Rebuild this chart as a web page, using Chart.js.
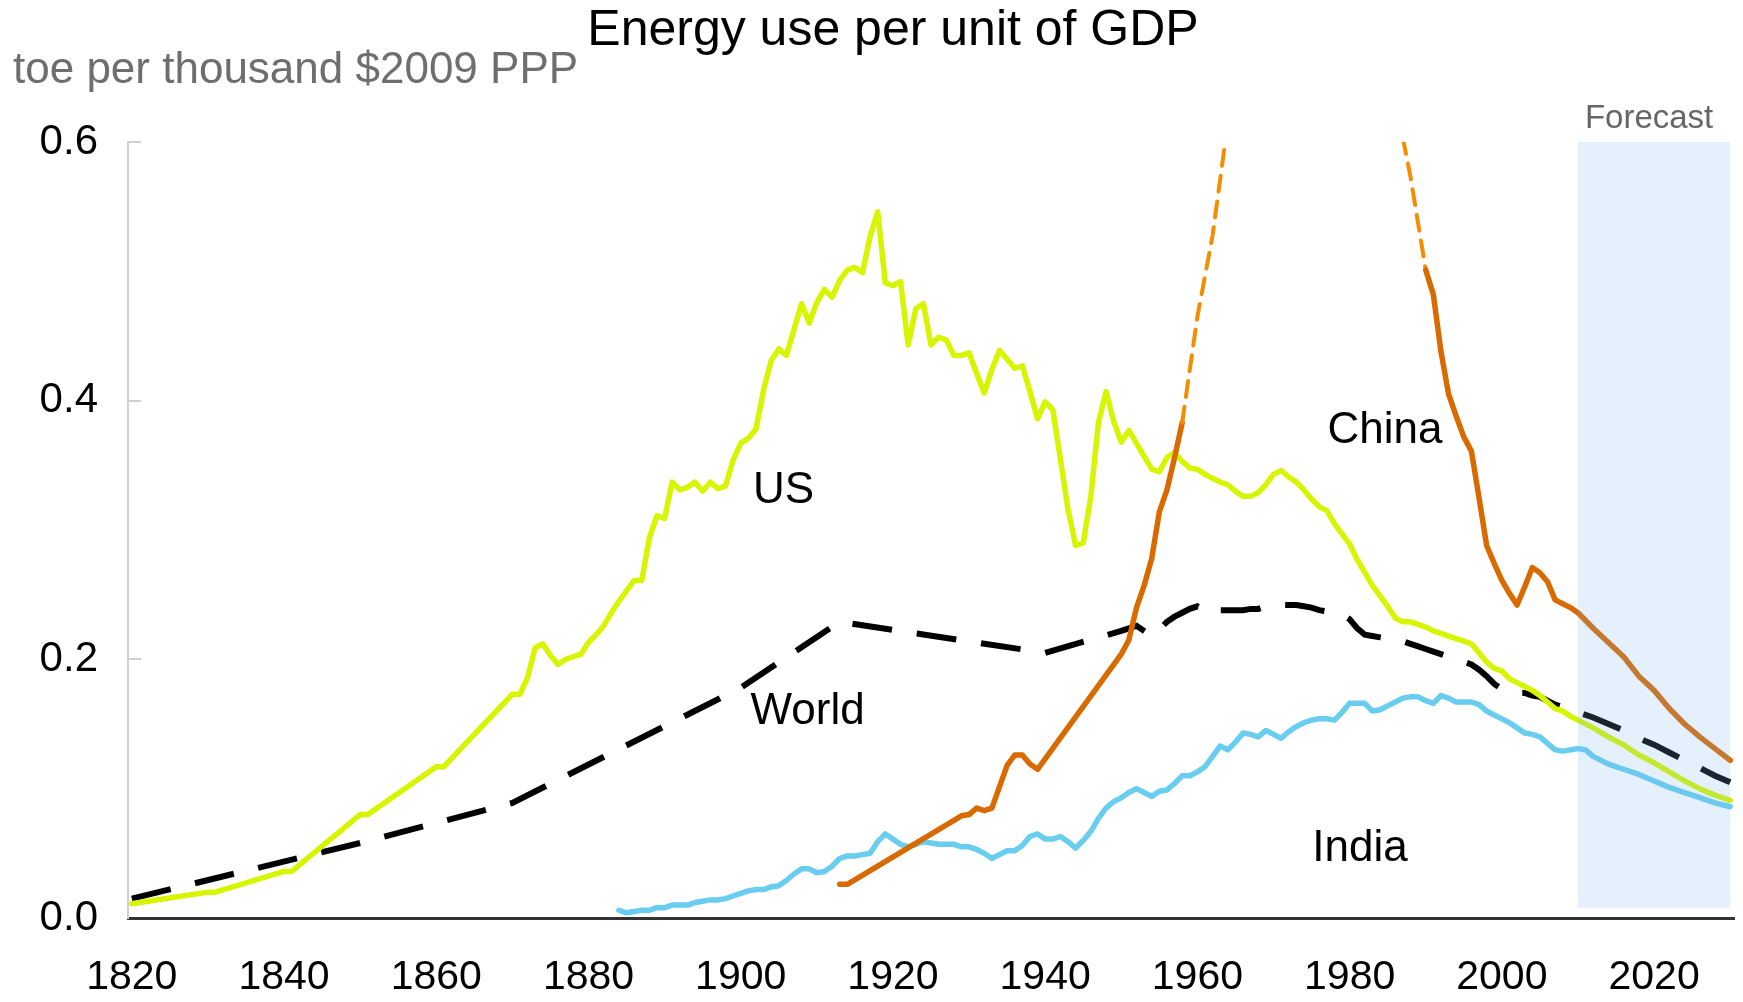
<!DOCTYPE html>
<html>
<head>
<meta charset="utf-8">
<title>Energy use per unit of GDP</title>
<script src="https://cdn.jsdelivr.net/npm/chart.js@4.4.1/dist/chart.umd.min.js"></script>
<style>
  html, body { margin: 0; padding: 0; background: #fff; }
  #chart { display: block; }
</style>
</head>
<body>
<canvas id="chart" width="1743" height="1002"></canvas>
<script>
// toe per thousand $2009 PPP
const usYears = [
  1820, 1830, 1831, 1840, 1841, 1850, 1851, 1860, 1861, 1870,
  1871, 1872, 1873, 1874, 1875, 1876, 1877, 1878, 1879, 1880,
  1881, 1882, 1883, 1884, 1885, 1886, 1887, 1888, 1889, 1890,
  1891, 1892, 1893, 1894, 1895, 1896, 1897, 1898, 1899, 1900,
  1901, 1902, 1903, 1904, 1905, 1906, 1907, 1908, 1909, 1910,
  1911, 1912, 1913, 1914, 1915, 1916, 1917, 1918, 1919, 1920,
  1921, 1922, 1923, 1924, 1925, 1926, 1927, 1928, 1929, 1930,
  1931, 1932, 1933, 1934, 1935, 1936, 1937, 1938, 1939, 1940,
  1941, 1942, 1943, 1944, 1945, 1946, 1947, 1948, 1949, 1950,
  1951, 1952, 1953, 1954, 1955, 1956, 1957, 1958, 1959, 1960,
  1961, 1962, 1963, 1964, 1965, 1966, 1967, 1968, 1969, 1970,
  1971, 1972, 1973, 1974, 1975, 1976, 1977, 1978, 1979, 1980,
  1981, 1982, 1983, 1984, 1985, 1986, 1987, 1988, 1989, 1990,
  1991, 1992, 1993, 1994, 1995, 1996, 1997, 1998, 1999, 2000,
  2001, 2002, 2003, 2004, 2005, 2006, 2007, 2008, 2009, 2010,
  2012, 2014, 2016, 2018, 2020, 2022, 2024, 2026, 2028, 2030
]
const usValues = [
  0.011, 0.020, 0.020, 0.036, 0.036, 0.080, 0.080, 0.117, 0.117, 0.173,
  0.173, 0.186, 0.209, 0.212, 0.203, 0.196, 0.200, 0.202, 0.204, 0.213,
  0.219, 0.226, 0.236, 0.245, 0.253, 0.261, 0.261, 0.294, 0.311, 0.309,
  0.337, 0.331, 0.333, 0.337, 0.330, 0.337, 0.332, 0.334, 0.354, 0.367,
  0.371, 0.378, 0.408, 0.431, 0.440, 0.435, 0.455, 0.475, 0.460, 0.476,
  0.486, 0.480, 0.493, 0.501, 0.503, 0.499, 0.527, 0.546, 0.491, 0.489,
  0.492, 0.443, 0.471, 0.475, 0.443, 0.449, 0.447, 0.435, 0.435, 0.437,
  0.421, 0.406, 0.424, 0.439, 0.432, 0.425, 0.427, 0.407, 0.386, 0.399,
  0.393, 0.355, 0.316, 0.288, 0.290, 0.326, 0.383, 0.407, 0.384, 0.368,
  0.377, 0.367, 0.357, 0.347, 0.345, 0.356, 0.360, 0.353, 0.348, 0.347,
  0.343, 0.340, 0.337, 0.335, 0.330, 0.326, 0.326, 0.329, 0.335, 0.343,
  0.346, 0.341, 0.337, 0.331, 0.324, 0.318, 0.315, 0.305, 0.297, 0.289,
  0.277, 0.267, 0.257, 0.249, 0.241, 0.232, 0.229, 0.229, 0.227, 0.225,
  0.222, 0.220, 0.218, 0.216, 0.214, 0.212, 0.205, 0.198, 0.193, 0.191,
  0.185, 0.182, 0.179, 0.176, 0.172, 0.167, 0.162, 0.160, 0.156, 0.153,
  0.147, 0.140, 0.134, 0.126, 0.120, 0.113, 0.106, 0.100, 0.095, 0.091
]

const worldYears = [
  1820, 1850, 1870, 1900, 1913, 1940,
  1950, 1951, 1952, 1953, 1954, 1955, 1956, 1957, 1958, 1959,
  1960, 1961, 1962, 1963, 1964, 1965, 1966, 1967, 1968, 1969,
  1970, 1971, 1972, 1973, 1974, 1975, 1976, 1977, 1978, 1979,
  1980, 1981, 1982, 1983, 1984, 1985, 1986, 1987, 1988, 1989,
  1990, 1991, 1992, 1993, 1994, 1995, 1996, 1997, 1998, 1999,
  2000, 2001, 2002, 2003, 2004, 2005, 2006, 2007, 2008, 2009, 2010,
  2012, 2014, 2016, 2018, 2020, 2022, 2024, 2026, 2028, 2030
]
const worldValues = [
  0.015, 0.058, 0.089, 0.178, 0.229, 0.205,
  0.222, 0.224, 0.226, 0.222, 0.218, 0.223, 0.229, 0.233, 0.236, 0.239,
  0.241, 0.238, 0.235, 0.238, 0.238, 0.238, 0.238, 0.239, 0.239, 0.241,
  0.242, 0.242, 0.242, 0.242, 0.241, 0.240, 0.238, 0.237, 0.236, 0.235,
  0.231, 0.224, 0.219, 0.218, 0.217, 0.216, 0.215, 0.214, 0.212, 0.210,
  0.208, 0.206, 0.204, 0.202, 0.200, 0.198, 0.196, 0.192, 0.187, 0.181,
  0.177, 0.175, 0.174, 0.174, 0.172, 0.171, 0.168, 0.165, 0.163, 0.161, 0.159,
  0.155, 0.150, 0.145, 0.139, 0.134, 0.128, 0.122, 0.116, 0.110, 0.105
]

// null marks the break in the Chinese series
const chinaYears = [
  1913, 1914, 1929, 1930, 1931, 1932, 1933, 1935, 1936, 1937, 1938, 1939,
  1950, 1951, 1952, 1953, 1954, 1955, 1956, 1957, 1958,
  1960, 1962, 1964, 1975, 1987, 1988, 1989, 1990,
  1991, 1992, 1993, 1994, 1995, 1996, 1997, 1998, 1999, 2000,
  2001, 2002, 2003, 2004, 2005, 2006, 2007, 2008, 2009, 2010,
  2012, 2014, 2016, 2018, 2020, 2022, 2024, 2026, 2028, 2030
]
const chinaValues = [
  0.026, 0.026, 0.079, 0.080, 0.085, 0.083, 0.085, 0.118, 0.126, 0.126, 0.119, 0.115,
  0.204, 0.215, 0.240, 0.257, 0.278, 0.314, 0.331, 0.356, 0.383,
  0.465, 0.528, 0.615, null, 0.603, 0.573, 0.537, 0.501,
  0.482, 0.438, 0.405, 0.388, 0.372, 0.361, 0.325, 0.288, 0.274, 0.261,
  0.251, 0.242, 0.256, 0.271, 0.267, 0.260, 0.246, 0.243, 0.240, 0.236,
  0.224, 0.213, 0.202, 0.187, 0.176, 0.162, 0.150, 0.140, 0.131, 0.122
]
// years where the Chinese line is only an estimate (dashed)
const chinaEstimated = [1958, 1990]

const indiaYears = [
  1884, 1885, 1886, 1887, 1888, 1889, 1890, 1891, 1892, 1893,
  1894, 1895, 1896, 1897, 1898, 1899, 1900, 1901, 1902, 1903,
  1904, 1905, 1906, 1907, 1908, 1909, 1910, 1911, 1912, 1913,
  1914, 1915, 1916, 1917, 1918, 1919, 1920, 1921, 1922, 1923,
  1924, 1925, 1926, 1927, 1928, 1929, 1930, 1931, 1932, 1933,
  1934, 1935, 1936, 1937, 1938, 1939, 1940, 1941, 1942, 1943,
  1944, 1945, 1946, 1947, 1948, 1949, 1950, 1951, 1952, 1953,
  1954, 1955, 1956, 1957, 1958, 1959, 1960, 1961, 1962, 1963,
  1964, 1965, 1966, 1967, 1968, 1969, 1970, 1971, 1972, 1973,
  1974, 1975, 1976, 1977, 1978, 1979, 1980, 1981, 1982, 1983,
  1984, 1985, 1986, 1987, 1988, 1989, 1990, 1991, 1992, 1993,
  1994, 1995, 1996, 1997, 1998, 1999, 2000, 2001, 2002, 2003,
  2004, 2005, 2006, 2007, 2008, 2009, 2010, 2011,
  2012, 2014, 2016, 2018, 2020, 2022, 2024, 2026, 2028, 2030
]
const indiaValues = [
  0.006, 0.004, 0.005, 0.006, 0.006, 0.008, 0.008, 0.010, 0.010, 0.010,
  0.012, 0.013, 0.014, 0.014, 0.015, 0.017, 0.019, 0.021, 0.022, 0.022,
  0.024, 0.025, 0.029, 0.034, 0.038, 0.038, 0.035, 0.036, 0.040, 0.046,
  0.048, 0.048, 0.049, 0.050, 0.059, 0.065, 0.061, 0.057, 0.055, 0.057,
  0.059, 0.058, 0.057, 0.057, 0.057, 0.055, 0.055, 0.053, 0.050, 0.046,
  0.049, 0.052, 0.052, 0.056, 0.063, 0.065, 0.061, 0.061, 0.063, 0.059,
  0.054, 0.060, 0.067, 0.077, 0.085, 0.090, 0.093, 0.097, 0.100, 0.097,
  0.094, 0.098, 0.099, 0.104, 0.110, 0.110, 0.113, 0.117, 0.125, 0.133,
  0.130, 0.136, 0.143, 0.142, 0.140, 0.145, 0.142, 0.139, 0.144, 0.148,
  0.151, 0.153, 0.154, 0.154, 0.153, 0.159, 0.166, 0.166, 0.166, 0.160,
  0.161, 0.164, 0.167, 0.170, 0.171, 0.171, 0.168, 0.166, 0.172, 0.170,
  0.167, 0.167, 0.167, 0.165, 0.160, 0.157, 0.154, 0.151, 0.147, 0.143,
  0.142, 0.140, 0.135, 0.130, 0.129, 0.130, 0.131, 0.130,
  0.125, 0.119, 0.115, 0.111, 0.106, 0.101, 0.097, 0.093, 0.089, 0.086
]

const xTicks = [1820, 1840, 1860, 1880, 1900, 1920, 1940, 1960, 1980, 2000, 2020]
const yTicks = [0, 0.2, 0.4, 0.6]
const forecastYears = [2010, 2030]

const fontFamily = '"Liberation Sans", Arial, Helvetica, sans-serif'

const toPoints = (years, values) => years.map((x, i) => ({ x, y: values[i] }))

const isEstimate = seg =>
  seg.p0.parsed.x >= chinaEstimated[0] && seg.p1.parsed.x <= chinaEstimated[1]

// labels sit next to their lines, placed in data units
const seriesLabels = [
  { text: 'US', x: 1901.6, y: 0.321 },
  { text: 'World', x: 1901.3, y: 0.150 },
  { text: 'China', x: 1977.1, y: 0.367 },
  { text: 'India', x: 1975.1, y: 0.044 }
]

const decorations = {
  id: 'decorations',
  afterDatasetsDraw(chart) {
    const { ctx, scales: { x, y } } = chart
    const left = x.getPixelForValue(forecastYears[0])
    const right = x.getPixelForValue(forecastYears[1])
    const top = y.getPixelForValue(0.6)
    const bottom = y.getPixelForValue(0.008)

    // forecast shading goes over the lines, like the original
    ctx.save()
    ctx.fillStyle = 'rgba(120, 180, 240, 0.2)'
    ctx.fillRect(left, top, right - left, bottom - top)

    ctx.fillStyle = '#666'
    ctx.font = `33px ${fontFamily}`
    ctx.textAlign = 'center'
    ctx.textBaseline = 'alphabetic'
    ctx.fillText('Forecast', (left + right) / 2 - 5, 128)
    ctx.restore()
  },
  afterDraw(chart) {
    const { ctx, chartArea, scales: { x, y } } = chart
    ctx.save()

    // short ticks on the inside of the y axis
    ctx.strokeStyle = '#cfcfcf'
    ctx.lineWidth = 2
    yTicks.filter(v => v > 0).forEach(v => {
      const py = Math.round(y.getPixelForValue(v))
      ctx.beginPath()
      ctx.moveTo(chartArea.left, py)
      ctx.lineTo(chartArea.left + 13, py)
      ctx.stroke()
    })

    ctx.textBaseline = 'alphabetic'
    ctx.fillStyle = '#000'
    ctx.font = `50px ${fontFamily}`
    ctx.textAlign = 'center'
    ctx.fillText('Energy use per unit of GDP', 893, 45)

    ctx.fillStyle = '#6e6e6e'
    ctx.font = `44px ${fontFamily}`
    ctx.textAlign = 'left'
    ctx.fillText('toe per thousand $2009 PPP', 13, 83)

    ctx.fillStyle = '#000'
    ctx.font = `44px ${fontFamily}`
    seriesLabels.forEach(label => {
      ctx.fillText(label.text, x.getPixelForValue(label.x), y.getPixelForValue(label.y))
    })
    ctx.restore()
  }
}

const chart = new Chart(document.getElementById('chart').getContext('2d'), {
  type: 'line',
  data: {
    datasets: [
      {
        label: 'China',
        data: toPoints(chinaYears, chinaValues),
        borderColor: '#d96a00',
        borderWidth: 5.5,
        borderJoinStyle: 'round',
        borderCapStyle: 'round',
        pointRadius: 0,
        spanGaps: false,
        clip: 0,
        order: 0,
        segment: {
          borderColor: seg => isEstimate(seg) ? '#f58d00' : undefined,
          borderDash: seg => isEstimate(seg) ? [16, 10] : undefined,
          borderWidth: seg => isEstimate(seg) ? 4 : undefined
        }
      },
      {
        label: 'US',
        data: toPoints(usYears, usValues),
        borderColor: '#d8f500',
        borderWidth: 5.5,
        borderJoinStyle: 'round',
        borderCapStyle: 'round',
        pointRadius: 0,
        clip: 0,
        order: 1
      },
      {
        label: 'India',
        data: toPoints(indiaYears, indiaValues),
        borderColor: '#68cdee',
        borderWidth: 5.5,
        borderJoinStyle: 'round',
        borderCapStyle: 'round',
        pointRadius: 0,
        clip: 0,
        order: 2
      },
      {
        label: 'World',
        data: toPoints(worldYears, worldValues),
        borderColor: '#000',
        borderWidth: 6,
        borderDash: [40, 25],
        borderCapStyle: 'butt',
        pointRadius: 0,
        clip: 0,
        order: 3
      }
    ]
  },
  options: {
    responsive: false,
    devicePixelRatio: 1,
    animation: false,
    layout: {
      padding: { top: 142, right: 9, bottom: 0, left: 0 }
    },
    scales: {
      x: {
        type: 'linear',
        min: 1819.5,
        max: 2030.5,
        afterBuildTicks: axis => { axis.ticks = xTicks.map(value => ({ value })) },
        afterFit: axis => { axis.height = 84 },
        grid: { display: false, drawTicks: false },
        border: { display: true, color: '#333', width: 3 },
        ticks: {
          padding: 35,
          color: '#000',
          autoSkip: false,
          maxRotation: 0,
          font: { family: fontFamily, size: 41 },
          callback: value => String(value)
        }
      },
      y: {
        min: 0,
        max: 0.6,
        afterBuildTicks: axis => { axis.ticks = yTicks.map(value => ({ value })) },
        afterFit: axis => { axis.width = 128 },
        grid: { display: false, drawTicks: false },
        border: { display: true, color: '#cfcfcf', width: 2 },
        ticks: {
          padding: 30,
          color: '#000',
          font: { family: fontFamily, size: 42 },
          callback: value => value.toFixed(1)
        }
      }
    },
    plugins: {
      legend: { display: false },
      tooltip: { enabled: false }
    }
  },
  plugins: [decorations]
})
</script>
</body>
</html>
